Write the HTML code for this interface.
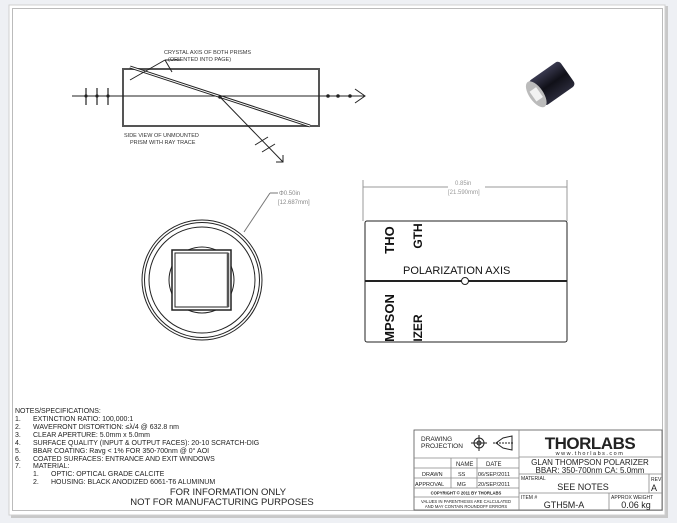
<!DOCTYPE html>
<html><head><style>
body{margin:0;background:#eef0f4;}
svg{display:block;font-family:"Liberation Sans",sans-serif;}
</style></head><body>
<svg width="677" height="523" viewBox="0 0 677 523" xmlns="http://www.w3.org/2000/svg">
<defs><linearGradient id="g" x1="0" y1="0" x2="0" y2="1"><stop offset="0" stop-color="#3a3a50"/><stop offset="0.5" stop-color="#101018"/><stop offset="1" stop-color="#2a2a3a"/></linearGradient></defs>
<rect x="0" y="0" width="677" height="523" fill="#eef0f4"/>
<rect x="11" y="6" width="657" height="512" fill="#c8c8c8"/>
<rect x="9" y="5" width="656" height="510" fill="#fff" stroke="#d0d0d0"/>
<rect x="12.5" y="8.5" width="650" height="502" fill="none" stroke="#bbb" stroke-width="1"/>

<!-- side view prism -->
<g stroke="#222" fill="none" stroke-width="1">
<rect x="123" y="69" width="196" height="57" stroke="#555" stroke-width="2"/>
<line x1="72" y1="96" x2="365" y2="96"/>
<polyline points="355,89 365,96 355,103"/>
<line x1="130" y1="67" x2="310" y2="126" stroke-width="3"/>
<line x1="130" y1="67" x2="310" y2="126" stroke="#fff" stroke-width="1"/>
<line x1="220" y1="97" x2="283" y2="162"/>
<polyline points="276,162 283,162 283,155"/>
<line x1="255" y1="145" x2="268" y2="137"/><line x1="262" y1="152" x2="275" y2="144"/>
<line x1="130" y1="80" x2="165" y2="60"/><line x1="165" y1="60" x2="172" y2="72"/><line x1="165" y1="60" x2="180" y2="60"/>
<g stroke-width="1.2"><line x1="86" y1="88" x2="86" y2="105"/><line x1="97" y1="88" x2="97" y2="105"/><line x1="108" y1="88" x2="108" y2="105"/></g>
</g>
<g fill="#222"><circle cx="86" cy="96" r="1.6"/><circle cx="97" cy="96" r="1.6"/><circle cx="108" cy="96" r="1.6"/>
<circle cx="328" cy="96" r="1.8"/><circle cx="338" cy="96" r="1.8"/><circle cx="350" cy="96" r="1.8"/><circle cx="220" cy="97" r="1.8"/></g>
<text x="164" y="54" font-size="5.5" fill="#333">CRYSTAL AXIS OF BOTH PRISMS</text>
<text x="168" y="61" font-size="5.5" fill="#333">(ORIENTED INTO PAGE)</text>
<text x="124" y="137" font-size="5.5" fill="#333">SIDE VIEW OF UNMOUNTED</text>
<text x="130" y="144" font-size="5.5" fill="#333">PRISM WITH RAY TRACE</text>

<!-- photo -->
<g transform="translate(551,84) rotate(-35)">
<rect x="-18" y="-15" width="38" height="30" fill="url(#g)" rx="4"/>
<ellipse cx="-18" cy="0" rx="7" ry="15" fill="#bbb"/>
<rect x="-22" y="-6" width="8" height="12" fill="#f2f2f2"/>
</g>

<!-- end view -->
<g stroke="#222" fill="none">
<circle cx="202" cy="280" r="60"/><circle cx="202" cy="280" r="57.5"/><circle cx="202" cy="280" r="53"/>
<rect x="172" y="250" width="59" height="60" stroke-width="1.5"/>
<rect x="175" y="253" width="53" height="54"/>
<line x1="228" y1="253" x2="228" y2="307" stroke-width="2.5" stroke="#555"/>
<path d="M188,250 Q202,244 216,250 M188,310 Q202,316 216,310 M172,266 Q166,280 172,294 M231,266 Q237,280 231,294"/>
</g>
<line x1="244" y1="232" x2="270" y2="193" stroke="#777"/><line x1="270" y1="193" x2="278" y2="193" stroke="#777"/>
<text x="279" y="195" font-size="6" fill="#888">Φ0.50in</text>
<text x="278" y="204" font-size="6" fill="#888">[12.687mm]</text>

<!-- top view -->
<g stroke="#999" fill="none"><line x1="363" y1="180" x2="363" y2="221"/><line x1="567" y1="180" x2="567" y2="221"/>
<line x1="363" y1="187" x2="448" y2="187"/><line x1="485" y1="187" x2="567" y2="187"/></g>
<text x="455" y="185" font-size="6" fill="#999">0.85in</text>
<text x="448" y="194" font-size="6" fill="#999">[21.590mm]</text>
<rect x="365" y="221" width="202" height="121" fill="none" stroke="#222" rx="2"/>
<line x1="365" y1="281" x2="567" y2="281" stroke="#222" stroke-width="2"/>
<circle cx="465" cy="281" r="3.5" fill="#fff" stroke="#222"/>
<text x="403" y="274" font-size="11" fill="#111">POLARIZATION AXIS</text>
<text transform="translate(394,240) rotate(-90)" font-size="13" font-weight="bold" fill="#111" text-anchor="middle">THO</text>
<text transform="translate(422,236) rotate(-90)" font-size="12" font-weight="bold" fill="#111" text-anchor="middle">GTH</text>
<text transform="translate(394,318) rotate(-90)" font-size="13" font-weight="bold" fill="#111" text-anchor="middle">MPSON</text>
<text transform="translate(422,328) rotate(-90)" font-size="12" font-weight="bold" fill="#111" text-anchor="middle">IZER</text>

<!-- notes -->
<g font-size="7" fill="#222">
<text x="15" y="413">NOTES/SPECIFICATIONS:</text>
<text x="15" y="421">1.</text><text x="33" y="421">EXTINCTION RATIO: 100,000:1</text>
<text x="15" y="429">2.</text><text x="33" y="429">WAVEFRONT DISTORTION: ≤λ/4 @ 632.8 nm</text>
<text x="15" y="437">3.</text><text x="33" y="437">CLEAR APERTURE: 5.0mm x 5.0mm</text>
<text x="15" y="445">4.</text><text x="33" y="445">SURFACE QUALITY (INPUT &amp; OUTPUT FACES): 20-10 SCRATCH-DIG</text>
<text x="15" y="453">5.</text><text x="33" y="453">BBAR COATING: Ravg &lt; 1% FOR 350-700nm @ 0° AOI</text>
<text x="15" y="461">6.</text><text x="33" y="461">COATED SURFACES: ENTRANCE AND EXIT WINDOWS</text>
<text x="15" y="468">7.</text><text x="33" y="468">MATERIAL:</text>
<text x="33" y="476">1.</text><text x="51" y="476">OPTIC: OPTICAL GRADE CALCITE</text>
<text x="33" y="484">2.</text><text x="51" y="484">HOUSING: BLACK ANODIZED 6061-T6 ALUMINUM</text>
</g>
<text x="228" y="495" font-size="9.5" fill="#222" text-anchor="middle">FOR INFORMATION ONLY</text>
<text x="222" y="505" font-size="9.5" fill="#222" text-anchor="middle">NOT FOR MANUFACTURING PURPOSES</text>

<!-- title block -->
<g stroke="#888" fill="none" stroke-width="0.8">
<rect x="414" y="430" width="248" height="80" stroke="#555"/>
<line x1="519" y1="430" x2="519" y2="510"/>
<line x1="414" y1="458" x2="519" y2="458"/><line x1="414" y1="468" x2="519" y2="468"/>
<line x1="414" y1="478" x2="519" y2="478"/><line x1="414" y1="488" x2="519" y2="488"/>
<line x1="414" y1="497" x2="519" y2="497"/>
<line x1="451" y1="458" x2="451" y2="488"/><line x1="477" y1="458" x2="477" y2="488"/>
<line x1="519" y1="457" x2="662" y2="457"/><line x1="519" y1="474" x2="662" y2="474"/>
<line x1="519" y1="493" x2="662" y2="493"/>
<line x1="649" y1="474" x2="649" y2="493"/><line x1="609" y1="493" x2="609" y2="510"/>
</g>
<g fill="#222">
<text x="421" y="441" font-size="6.5">DRAWING</text><text x="421" y="448" font-size="6.5">PROJECTION</text>
<text x="456" y="466" font-size="6">NAME</text><text x="486" y="466" font-size="6">DATE</text>
<text x="422" y="476" font-size="5.5">DRAWN</text><text x="458" y="476" font-size="5.5">SS</text><text x="478" y="476" font-size="5.5">06/SEP/2011</text>
<text x="415" y="486" font-size="5.5">APPROVAL</text><text x="457" y="486" font-size="5.5">MG</text><text x="478" y="486" font-size="5.5">20/SEP/2011</text>
<text x="466" y="494.5" font-size="4.2" font-weight="bold" text-anchor="middle">COPYRIGHT © 2011 BY THORLABS</text>
<text x="466" y="503" font-size="4.2" text-anchor="middle">VALUES IN PARENTHESIS ARE CALCULATED</text>
<text x="466" y="508" font-size="4.2" text-anchor="middle">AND MAY CONTAIN ROUNDOFF ERRORS</text>
<text x="590" y="449" font-size="17" font-weight="bold" text-anchor="middle" letter-spacing="-0.5">THORLABS</text>
<text x="590" y="455" font-size="5.5" text-anchor="middle" letter-spacing="1.5">www.thorlabs.com</text>
<text x="590" y="465" font-size="8" text-anchor="middle">GLAN THOMPSON POLARIZER</text>
<text x="590" y="473" font-size="8" text-anchor="middle">BBAR: 350-700nm CA: 5.0mm</text>
<text x="521" y="480" font-size="5">MATERIAL</text>
<text x="583" y="490" font-size="9" text-anchor="middle">SEE NOTES</text>
<text x="651" y="481" font-size="5">REV</text><text x="651" y="491" font-size="9">A</text>
<text x="521" y="499" font-size="5">ITEM #</text>
<text x="564" y="508" font-size="9" text-anchor="middle">GTH5M-A</text>
<text x="611" y="499" font-size="5">APPROX WEIGHT</text>
<text x="636" y="508" font-size="9" text-anchor="middle">0.06 kg</text>
</g>
<g stroke="#222" fill="none">
<circle cx="479" cy="443" r="5"/><circle cx="479" cy="443" r="2"/>
<line x1="471" y1="443" x2="487" y2="443"/><line x1="479" y1="435" x2="479" y2="451"/>
<path d="M496,443 L503,438 L512,436 L512,450 L503,448 Z"/>
<line x1="493" y1="443" x2="514" y2="443" stroke-dasharray="2,1"/>
</g>
</svg>
</body></html>
